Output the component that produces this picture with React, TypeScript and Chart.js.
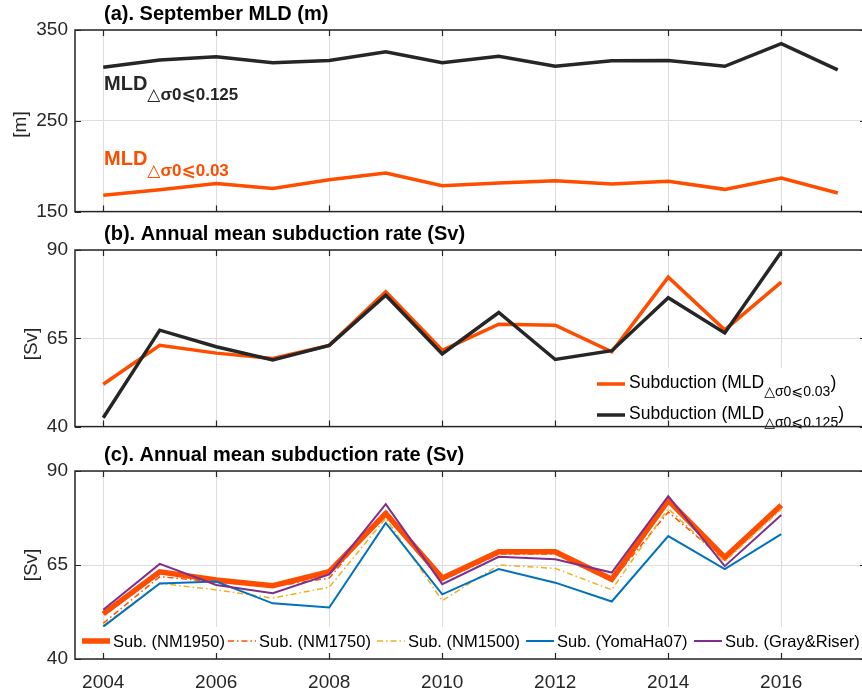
import { useEffect, useRef } from "react";
import { Chart, registerables } from "chart.js";

Chart.register(...registerables);

// ---- data -------------------------------------------------------------
const years = [2004, 2005, 2006, 2007, 2008, 2009, 2010, 2011, 2012, 2013, 2014, 2015, 2016, 2017];
const mldDelta0125 = [309, 317, 320.5, 314, 316.5, 326, 314, 321, 310, 316, 316.5, 310, 335, 306];
const mldDelta003 = [168, 174, 181, 175.5, 185, 192.5, 178.5, 181.5, 184, 180.5, 183.5, 174.5, 187, 170.5];

const subYears = [2004, 2005, 2006, 2007, 2008, 2009, 2010, 2011, 2012, 2013, 2014, 2015, 2016];
const subMld003 = [52, 63, 60.8, 59.3, 63, 78.2, 61.6, 69, 68.7, 61.2, 82.3, 67.4, 80.9];
const subMld0125 = [42.5, 67.3, 62.6, 58.9, 63, 77.2, 60.6, 72.3, 59, 61.5, 76.5, 66.5, 89.4];

const subNM1950 = [52, 63.2, 61, 59.5, 63.2, 78.7, 61.5, 68.5, 68.5, 61.2, 82.2, 67, 80.9];
const subNM1750 = [49.5, 61.9, 60.5, 59.3, 61.5, 79.5, 60.9, 67.9, 67.9, 60.7, 79.1, 66.3, 80.5];
const subNM1500 = [48.9, 60.1, 58.4, 56.2, 59.1, 77.4, 55.5, 65, 64.1, 58.4, 80, 65.9, 79.8];
const subYomaHa07 = [48.6, 60.1, 60.6, 54.8, 53.7, 76.2, 57.2, 63.9, 60.3, 55.3, 72.7, 63.9, 73.2];
const subGrayRiser = [53.1, 65.3, 59.7, 57.5, 62.5, 81.2, 59.9, 67.2, 66.5, 63, 83.3, 64.7, 78.3];

const xTickYears = [2004, 2006, 2008, 2010, 2012, 2014, 2016];
const mldTicks = [150, 250, 350];
const svTicks = [40, 65, 90];

// ---- style --------------------------------------------------------------
const FONT = "'Liberation Sans', Arial, Helvetica, 'DejaVu Sans', sans-serif";
const ORANGE = "#FF4D00";
const DARK = "#262626";
const YELLOW = "#EDB120";
const BLUE = "#0072BD";
const PURPLE = "#7E2F8E";
const GRID = "#DEDEDE";
const DASH_DOT = [6, 3, 1.5, 3];

const CANVAS_W = 870;
const PLOT_LEFT = 75;
const PLOT_RIGHT = 866;

const pts = (xs: number[], ys: number[]) => xs.map((x, i) => ({ x, y: ys[i] }));

type Run = { text: string; sub?: boolean };

function drawRuns(
  ctx: CanvasRenderingContext2D,
  x: number,
  y: number,
  runs: Run[],
  size: number,
  subSize: number,
  subDrop: number,
  weight: string,
  color: string
) {
  ctx.fillStyle = color;
  ctx.textBaseline = "alphabetic";
  ctx.textAlign = "left";
  let cx = x;
  for (const r of runs) {
    const s = r.sub ? subSize : size;
    ctx.font = `${weight} ${s}px ${FONT}`;
    ctx.fillText(r.text, cx, r.sub ? y + subDrop : y);
    cx += ctx.measureText(r.text).width;
  }
}

function drawLine(ctx: CanvasRenderingContext2D, x0: number, x1: number, y: number, color: string, w: number, dash: number[] = []) {
  ctx.save();
  ctx.strokeStyle = color;
  ctx.lineWidth = w;
  ctx.setLineDash(dash);
  ctx.beginPath();
  ctx.moveTo(x0, y);
  ctx.lineTo(x1, y);
  ctx.stroke();
  ctx.restore();
}

type PanelSpec = {
  canvasTop: number;
  canvasHeight: number;
  plotTop: number;
  plotBottom: number;
  yMin: number;
  yMax: number;
  yTicks: number[];
  showXLabels: boolean;
  datasets: any[];
  title: string;
  yTitle: string;
  yTitleX: number;
  legend?: (ctx: CanvasRenderingContext2D) => void;
  notes?: (ctx: CanvasRenderingContext2D) => void;
};

function panelPlugin(spec: PanelSpec) {
  return {
    id: "panelDecor",
    afterDatasetsDraw(chart: any) {
      const { ctx, chartArea: a } = chart;
      const xs = chart.scales.x;
      const ys = chart.scales.y;
      ctx.save();
      ctx.translate(0, -spec.canvasTop);
      // in-plot legend sits above the lines
      if (spec.legend) spec.legend(ctx);
      ctx.restore();

      // axes box with inward ticks
      ctx.save();
      ctx.strokeStyle = DARK;
      ctx.lineWidth = 1.5;
      ctx.strokeRect(a.left, a.top, a.right - a.left, a.bottom - a.top);
      ctx.beginPath();
      const tl = 6;
      for (const v of xTickYears) {
        const px = Math.round(xs.getPixelForValue(v)) + 0.5;
        ctx.moveTo(px, a.top);
        ctx.lineTo(px, a.top + tl);
        ctx.moveTo(px, a.bottom);
        ctx.lineTo(px, a.bottom - tl);
      }
      for (const v of spec.yTicks) {
        const py = Math.round(ys.getPixelForValue(v)) + 0.5;
        ctx.moveTo(a.left, py);
        ctx.lineTo(a.left + tl, py);
        ctx.moveTo(a.right, py);
        ctx.lineTo(a.right - tl, py);
      }
      ctx.lineWidth = 1.2;
      ctx.stroke();
      ctx.restore();

      ctx.save();
      ctx.translate(0, -spec.canvasTop);
      // panel title
      ctx.fillStyle = "#000";
      ctx.font = `bold 20px ${FONT}`;
      ctx.textAlign = "left";
      ctx.textBaseline = "alphabetic";
      ctx.fillText(spec.title, 104, spec.plotTop - 10.5);
      // y-axis title
      const yMid = (spec.plotTop + spec.plotBottom) / 2;
      ctx.save();
      ctx.translate(spec.yTitleX, yMid);
      ctx.rotate(-Math.PI / 2);
      ctx.textAlign = "center";
      ctx.textBaseline = "middle";
      ctx.fillStyle = DARK;
      ctx.font = `19px ${FONT}`;
      ctx.fillText(spec.yTitle, 0, 0);
      ctx.restore();
      if (spec.notes) spec.notes(ctx);
      ctx.restore();
    },
  };
}

function buildChart(canvas: HTMLCanvasElement, spec: PanelSpec) {
  const xAxisH = spec.canvasTop + spec.canvasHeight - spec.plotBottom;
  return new Chart(canvas, {
    type: "line",
    data: { datasets: spec.datasets },
    options: {
      responsive: false,
      animation: false,
      events: [],
      layout: {
        padding: { top: spec.plotTop - spec.canvasTop, right: CANVAS_W - PLOT_RIGHT, left: 0, bottom: 0 },
      },
      elements: { point: { radius: 0 }, line: { tension: 0 } },
      plugins: { legend: { display: false }, tooltip: { enabled: false }, title: { display: false } },
      scales: {
        x: {
          type: "linear",
          min: 2003.5,
          max: 2017.5,
          afterBuildTicks: (s: any) => {
            s.ticks = xTickYears.map((v) => ({ value: v }));
          },
          afterFit: (s: any) => {
            s.height = xAxisH;
          },
          border: { display: false },
          grid: { color: GRID, lineWidth: 1, drawTicks: false },
          ticks: {
            display: spec.showXLabels,
            autoSkip: false,
            maxRotation: 0,
            padding: 12,
            color: DARK,
            font: { family: FONT, size: 19 },
            callback: (v: any) => String(v),
          },
        },
        y: {
          type: "linear",
          min: spec.yMin,
          max: spec.yMax,
          afterBuildTicks: (s: any) => {
            s.ticks = spec.yTicks.map((v) => ({ value: v }));
          },
          afterFit: (s: any) => {
            s.width = PLOT_LEFT;
          },
          border: { display: false },
          grid: { color: GRID, lineWidth: 1, drawTicks: false },
          ticks: {
            padding: 7,
            color: DARK,
            font: { family: FONT, size: 19 },
            callback: (v: any) => String(v),
          },
        },
      },
    },
    plugins: [panelPlugin(spec)],
  } as any);
}

const SUB_125 = "△σ0⩽0.125";
const SUB_003 = "△σ0⩽0.03";

const panelA: PanelSpec = {
  canvasTop: 0,
  canvasHeight: 230,
  plotTop: 30,
  plotBottom: 219,
  yMin: 150,
  yMax: 350,
  yTicks: mldTicks,
  showXLabels: false,
  title: "(a). September MLD (m)",
  yTitle: "[m]",
  yTitleX: 21,
  datasets: [
    { label: "MLD 0.125", data: pts(years, mldDelta0125), borderColor: DARK, borderWidth: 3.5 },
    { label: "MLD 0.03", data: pts(years, mldDelta003), borderColor: ORANGE, borderWidth: 3.5 },
  ],
  notes: (ctx) => {
    drawRuns(ctx, 104, 90, [{ text: "MLD" }, { text: SUB_125, sub: true }], 20, 17, 10, "bold", DARK);
    drawRuns(ctx, 104, 165, [{ text: "MLD" }, { text: SUB_003, sub: true }], 20, 17, 11, "bold", ORANGE);
  },
};

const panelB: PanelSpec = {
  canvasTop: 222,
  canvasHeight: 223,
  plotTop: 250,
  plotBottom: 438,
  yMin: 40,
  yMax: 90,
  yTicks: svTicks,
  showXLabels: false,
  title: "(b). Annual mean subduction rate (Sv)",
  yTitle: "[Sv]",
  yTitleX: 32,
  datasets: [
    { label: "Subduction 0.125", data: pts(subYears, subMld0125), borderColor: DARK, borderWidth: 3.5, order: 1 },
    { label: "Subduction 0.03", data: pts(subYears, subMld003), borderColor: ORANGE, borderWidth: 3.5, order: 2 },
  ],
  legend: (ctx) => {
    ctx.fillStyle = "#fff";
    ctx.fillRect(590, 368, 280, 70);
    drawLine(ctx, 597, 625, 384, ORANGE, 3.5);
    drawRuns(ctx, 629, 388, [{ text: "Subduction (MLD" }, { text: SUB_003, sub: true }, { text: ")" }], 17.5, 14, 8, "", "#000");
    drawLine(ctx, 597, 625, 415, DARK, 3.5);
    drawRuns(ctx, 629, 418.5, [{ text: "Subduction (MLD" }, { text: SUB_125, sub: true }, { text: ")" }], 17.5, 14, 8.5, "", "#000");
  },
};

const legendC = [
  { label: "Sub. (NM1950)", color: ORANGE, width: 5.5, dash: [] as number[], x: 82 },
  { label: "Sub. (NM1750)", color: ORANGE, width: 1.5, dash: DASH_DOT, x: 228 },
  { label: "Sub. (NM1500)", color: YELLOW, width: 1.5, dash: DASH_DOT, x: 377 },
  { label: "Sub. (YomaHa07)", color: BLUE, width: 2, dash: [] as number[], x: 526 },
  { label: "Sub. (Gray&Riser)", color: PURPLE, width: 2, dash: [] as number[], x: 694 },
];

const panelC: PanelSpec = {
  canvasTop: 440,
  canvasHeight: 253,
  plotTop: 471,
  plotBottom: 659,
  yMin: 40,
  yMax: 90,
  yTicks: svTicks,
  showXLabels: true,
  title: "(c). Annual mean subduction rate (Sv)",
  yTitle: "[Sv]",
  yTitleX: 32,
  datasets: [
    { label: legendC[0].label, data: pts(subYears, subNM1950), borderColor: ORANGE, borderWidth: 5.5, order: 5 },
    { label: legendC[1].label, data: pts(subYears, subNM1750), borderColor: ORANGE, borderWidth: 1.5, borderDash: DASH_DOT, order: 4 },
    { label: legendC[2].label, data: pts(subYears, subNM1500), borderColor: YELLOW, borderWidth: 1.5, borderDash: DASH_DOT, order: 3 },
    { label: legendC[3].label, data: pts(subYears, subYomaHa07), borderColor: BLUE, borderWidth: 2, order: 2 },
    { label: legendC[4].label, data: pts(subYears, subGrayRiser), borderColor: PURPLE, borderWidth: 2, order: 1 },
  ],
  legend: (ctx) => {
    ctx.fillStyle = "#fff";
    ctx.fillRect(76, 627, 800, 32);
    for (const item of legendC) {
      drawLine(ctx, item.x, item.x + 28, 641, item.color, item.width, item.dash);
      drawRuns(ctx, item.x + 31, 646.5, [{ text: item.label }], 16.5, 16.5, 0, "", "#000");
    }
  },
};

function Panel({ spec }: { spec: PanelSpec }) {
  const ref = useRef<HTMLCanvasElement | null>(null);
  useEffect(() => {
    if (!ref.current) return;
    const chart = buildChart(ref.current, spec);
    return () => chart.destroy();
  }, [spec]);
  return (
    <canvas
      ref={ref}
      width={CANVAS_W}
      height={spec.canvasHeight}
      style={{
        position: "absolute",
        left: 0,
        top: spec.canvasTop,
        width: CANVAS_W,
        height: spec.canvasHeight,
      }}
    />
  );
}

export default function App() {
  useEffect(() => {
    document.body.style.margin = "0";
    document.body.style.overflow = "hidden";
  }, []);
  return (
    <div
      style={{
        position: "absolute",
        left: 0,
        top: 0,
        width: 862,
        height: 693,
        overflow: "hidden",
        background: "#fff",
      }}
    >
      <Panel spec={panelA} />
      <Panel spec={panelB} />
      <Panel spec={panelC} />
    </div>
  );
}
